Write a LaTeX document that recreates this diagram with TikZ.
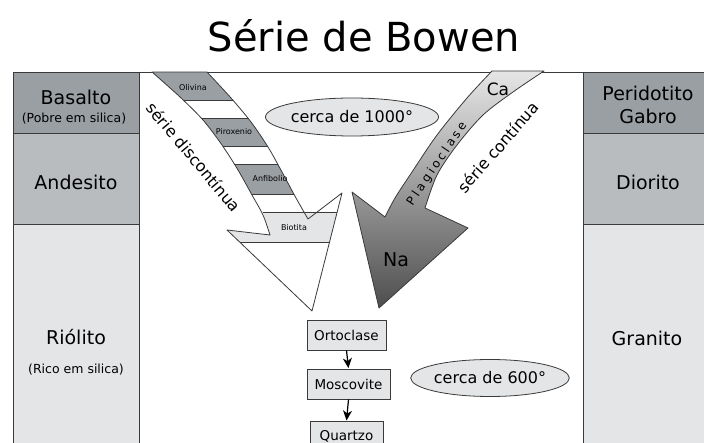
\documentclass[tikz,border=0pt]{standalone}
\usepackage{fontspec}
\setmainfont{DejaVu Sans}
\usetikzlibrary{arrows.meta,shapes.geometric}
\definecolor{darkg}{HTML}{9A9FA3}
\definecolor{midg}{HTML}{B9BCBF}
\definecolor{lightg}{HTML}{E4E5E7}
\definecolor{gtop}{HTML}{E6E6E6}
\definecolor{gbot}{HTML}{4E4E4E}
\definecolor{edge}{HTML}{3A3A3A}
\newcommand{\fs}[1]{\fontsize{#1}{#1}\selectfont}
\begin{document}
\begin{tikzpicture}[x=1pt,y=-1pt,line width=0.8pt,
  cell/.style={draw=edge,line width=0.9pt},
  lab/.style={inner sep=0pt,font=\fs{19}},
  sublab/.style={inner sep=0pt,font=\fs{12.5}},
  stripelab/.style={inner sep=0pt,font=\fs{8}},
  mineral/.style={draw=edge,fill=lightg,inner sep=0pt,minimum height=30pt,font=\fs{13.5}},
  temp/.style={ellipse,draw=edge,fill=lightg,inner sep=0pt,font=\fs{16}},
  flow/.style={-{Stealth[length=10pt,width=9pt,inset=3pt]},line width=1.2pt,shorten >=0.5pt}]
\useasboundingbox (0,0) rectangle (704,443);
\fill[white] (0,0) rectangle (704,443);

% title
\node[inner sep=0pt,anchor=base,font=\fs{40}] (title) at (364,52) {Série de Bowen};

% frame top line
\draw[edge] (139,72) -- (583,72);

% left column
\draw[cell,fill=darkg] (13,72) rectangle (139,133);
\draw[cell,fill=midg] (13,133) rectangle (139,224);
\draw[cell,fill=lightg] (13,224) rectangle (139,450);
\node[lab] (basalto) at (76,97) {Basalto};
\node[sublab] (pobre) at (74,119) {(Pobre em silica)};
\node[lab] (andesito) at (76,182) {Andesito};
\node[lab] (riolito) at (76,337) {Riólito};
\node[sublab] (rico) at (76,370) {(Rico em silica)};

% right column
\draw[cell,fill=darkg] (583,72) rectangle (710,133);
\draw[cell,fill=midg] (583,133) rectangle (710,224);
\draw[cell,fill=lightg] (583,224) rectangle (710,450);
\node[lab] (peridotito) at (648,93) {Peridotito};
\node[lab] (gabro) at (648,116) {Gabro};
\node[lab] (diorito) at (648,182) {Diorito};
\node[lab] (granito) at (647,338) {Granito};

% left arrow (discontinuous series)
\def\leftarr{plot[smooth] coordinates {(152,72) (180,97) (203,120) (222,145) (238,170) (252,195) (263,215) (270,235)}
  -- (227,230) -- (312,311) -- (342,193) -- (308,219)
  -- plot[smooth] coordinates {(308,219) (296,198) (282,172) (268,147) (251,122) (231,98) (207,72)} -- cycle}
\fill[white] \leftarr;
\fill[lightg] (263,212) -- (337,212) -- (329.5,242) -- (240,242) -- (227,230) -- (270,235) -- cycle;
\begin{scope}
  \clip \leftarr;
  \fill[darkg] (140,72) rectangle (350,100);
  \fill[darkg] (140,118) rectangle (350,146);
  \fill[darkg] (140,164) rectangle (350,194);
  \foreach \yy in {100,118,146,164,194} \draw[edge] (140,\yy) -- (350,\yy);
\end{scope}
\draw[edge] (263,212) -- (337,212);
\draw[edge] (240,242) -- (329.5,242);
\draw[edge,line join=round] \leftarr;
\node[stripelab] (olivina) at (193,88) {Olivina};
\node[stripelab] (piroxenio) at (234,132) {Piroxenio};
\node[stripelab] (anfibolio) at (270,179) {Anfibolio};
\node[stripelab] (biotita) at (294,228) {Biotita};
\node[inner sep=0pt,rotate=-50,font=\fs{16}] (disc) at (194,157) {série discontínua};

% right arrow (continuous series)
\shadedraw[draw=edge,top color=gtop,bottom color=gbot,line join=round]
  plot[smooth] coordinates {(492,71) (467,98) (437,135) (412,172) (395,198) (385,217)}
  -- (352,192) -- (379,308) -- (468,228) -- (425,208)
  -- plot[smooth] coordinates {(425,208) (437,175) (457,145) (483,115) (513,92) (544,71)} -- cycle;
\node[inner sep=0pt,font=\fs{17}] (ca) at (498,89) {Ca};
\node[inner sep=0pt,font=\fs{19}] (na) at (396,260) {Na};
\node[inner sep=0pt,rotate=56,font=\fs{12}\addfontfeature{LetterSpace=25}] (plag) at (437,164) {Plagioclase};
\node[inner sep=0pt,rotate=49,font=\fs{16}] (cont) at (498,147) {série contínua};

% temperatures
\node[temp,minimum width=157pt,minimum height=38pt] (t1000) at (352,117) {cerca de 1000°};
\node[temp,minimum width=155pt,minimum height=37pt] (t600) at (490,378) {cerca de 600°};

% late minerals
\node[mineral,minimum width=79pt] (orto) at (346.5,335) {Ortoclase};
\node[mineral,minimum width=83pt] (mosco) at (348.5,384) {Moscovite};
\node[mineral,minimum width=73pt,anchor=north] (quartzo) at (346.5,421) {Quartzo};
\draw[flow] (orto.south) -- (mosco.north);
\draw[flow] (mosco.south) -- (quartzo.north);
\end{tikzpicture}
\end{document}
